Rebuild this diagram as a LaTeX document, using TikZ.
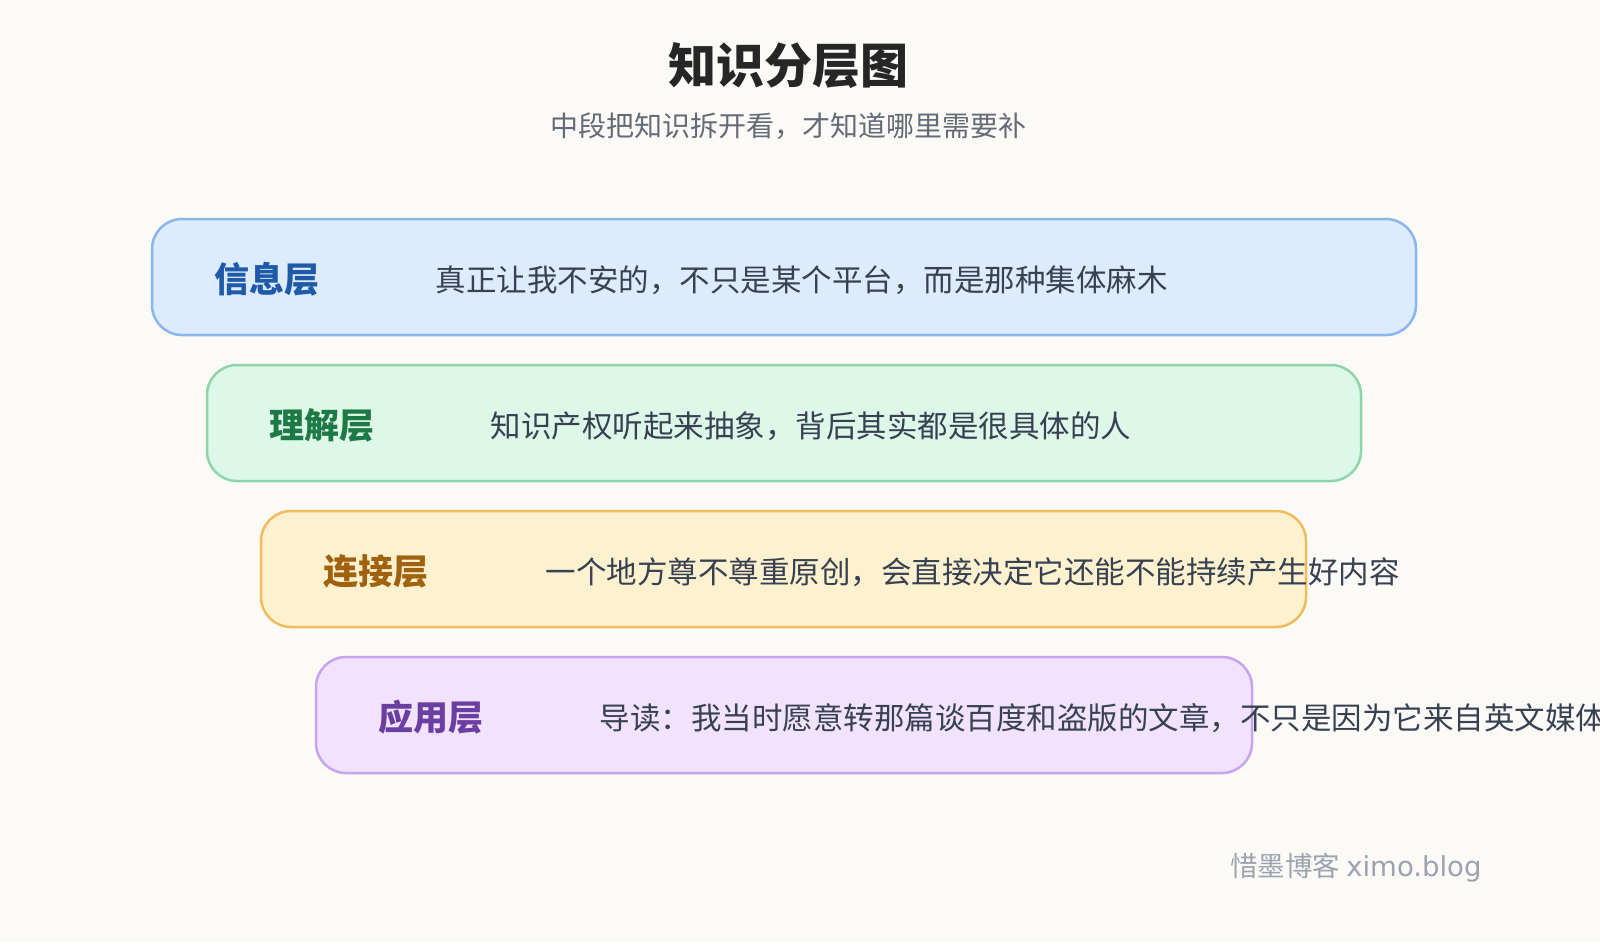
\documentclass[tikz,border=0pt]{standalone}
\usepackage{fontspec}
\setmainfont{Noto Sans CJK SC}
\begin{document}
\begin{tikzpicture}[x=1pt,y=-1pt,
  layer/.style={draw, line width=2.5pt, rounded corners=30pt},
  lab/.style={anchor=west, font=\fontsize{35}{35}\selectfont\bfseries},
  txt/.style={anchor=west, font=\fontsize{30.5}{30.5}\selectfont, text={rgb,255:red,55;green,65;blue,81}}]
\definecolor{bg}{HTML}{FBFAF6}
\useasboundingbox (0,0) rectangle (1600,943);
\clip (0,0) rectangle (1600,943);
\fill[bg] (0,0) rectangle (1600,943);
\node[font=\fontsize{48}{48}\selectfont\bfseries, text=black!85] (title) at (788,66) {知识分层图};
\node[font=\fontsize{28}{28}\selectfont, text={rgb,255:red,100;green,106;blue,118}] (sub) at (788,126) {中段把知识拆开看，才知道哪里需要补};
\draw[layer, draw={rgb,255:red,138;green,182;blue,238}, fill={rgb,255:red,220;green,235;blue,253}] (152,219) rectangle (1416,335);
\node[lab, text={rgb,255:red,30;green,90;blue,168}] (l1) at (211,279) {信息层};
\node[txt] (t1) at (432,280) {真正让我不安的，不只是某个平台，而是那种集体麻木};
\draw[layer, draw={rgb,255:red,142;green,214;blue,169}, fill={rgb,255:red,221;green,247;blue,233}] (207,365) rectangle (1361,481);
\node[lab, text={rgb,255:red,30;green,122;blue,69}] (l2) at (266,425) {理解层};
\node[txt] (t2) at (487,426) {知识产权听起来抽象，背后其实都是很具体的人};
\draw[layer, draw={rgb,255:red,240;green,188;blue,94}, fill={rgb,255:red,254;green,241;blue,208}] (261,511) rectangle (1306,627);
\node[lab, text={rgb,255:red,160;green,98;blue,15}] (l3) at (320,571) {连接层};
\node[txt] (t3) at (542,572) {一个地方尊不尊重原创，会直接决定它还能不能持续产生好内容};
\draw[layer, draw={rgb,255:red,201;green,164;blue,238}, fill={rgb,255:red,241;green,226;blue,254}] (316,657) rectangle (1252,773);
\node[lab, text={rgb,255:red,107;green,63;blue,160}] (l4) at (375,717) {应用层};
\node[txt] (t4) at (596,718) {导读：我当时愿意转那篇谈百度和盗版的文章，不只是因为它来自英文媒体};
\node[anchor=east, font=\fontsize{27.5}{27.5}\selectfont, text={rgb,255:red,156;green,163;blue,175}] (wm) at (1485,868) {惜墨博客 {\fontspec{DejaVu Sans}ximo.blog}};
\end{tikzpicture}
\end{document}
